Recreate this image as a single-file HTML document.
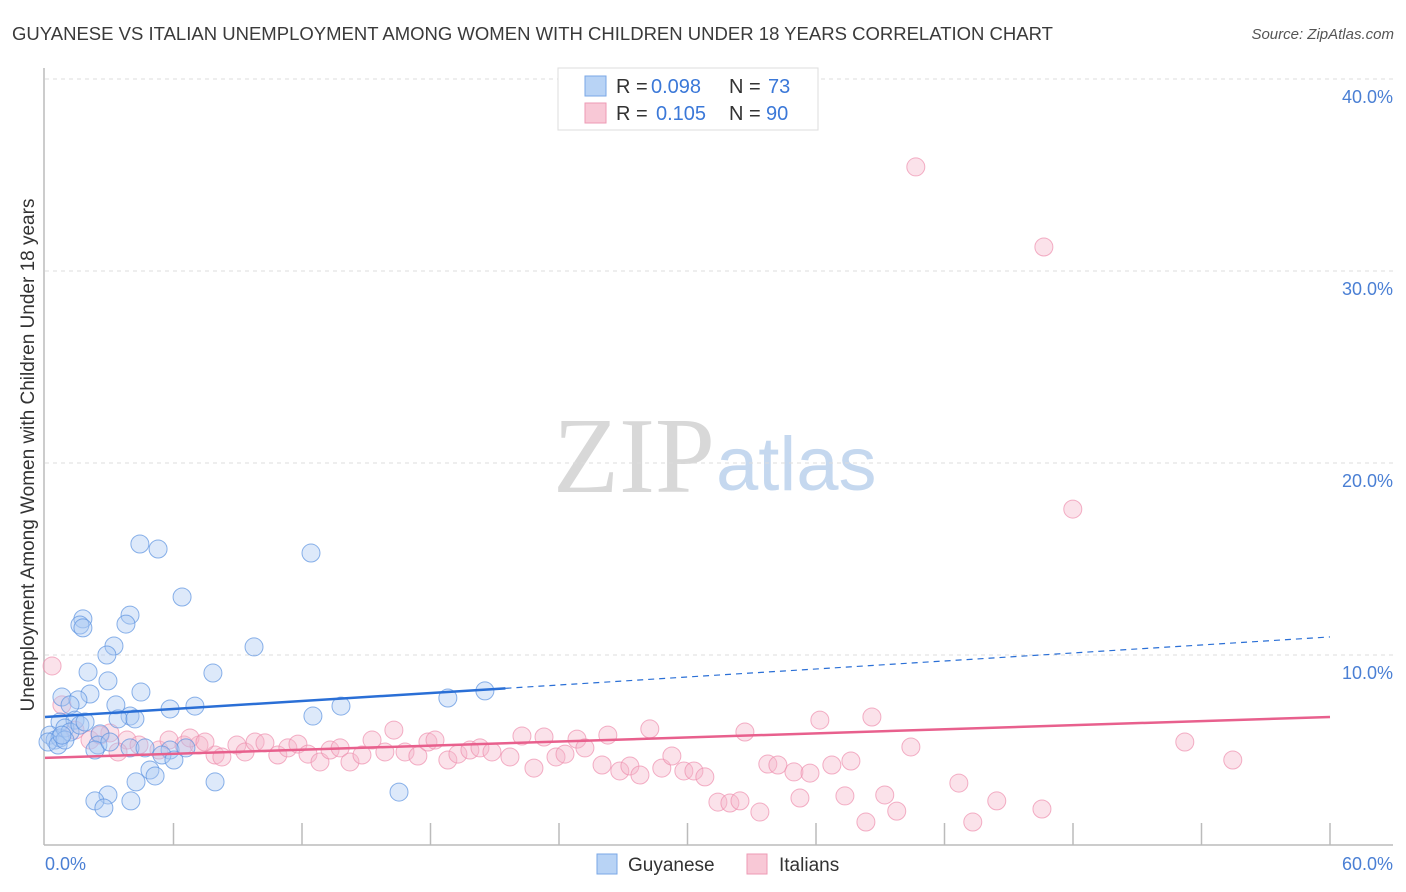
<!DOCTYPE html>
<html><head><meta charset="utf-8"><style>
body{margin:0;background:#fff;font-family:"Liberation Sans",sans-serif}
svg{display:block}
</style></head><body>
<svg width="1406" height="892">
<text x="12" y="40" font-size="18.5" fill="#3a3a3a" textLength="1041" lengthAdjust="spacingAndGlyphs">GUYANESE VS ITALIAN UNEMPLOYMENT AMONG WOMEN WITH CHILDREN UNDER 18 YEARS CORRELATION CHART</text>
<text x="1394" y="39" font-size="15" fill="#555" font-style="italic" text-anchor="end">Source: ZipAtlas.com</text>
<text x="715" y="492" font-size="108" fill="#d8d8d8" text-anchor="end" font-family="Liberation Serif,serif">ZIP</text>
<text x="716" y="490" font-size="76" fill="#c5d8ef">atlas</text>
<g id="grid"></g>
<g id="axes"></g>
<g id="pts"></g>
<g id="lines"></g>
<text transform="translate(34,455) rotate(-90)" font-size="19" fill="#333" text-anchor="middle">Unemployment Among Women with Children Under 18 years</text>
<text x="45" y="870" font-size="18" fill="#4a7fd4">0.0%</text>
<text x="1393" y="870" font-size="18" fill="#4a7fd4" text-anchor="end">60.0%</text>
<g>
<rect x="558" y="68" width="260" height="62" fill="#fff" stroke="#ddd"/>
<rect x="585" y="76" width="21" height="20" fill="#b8d3f5" stroke="#7aa7e6"/>
<rect x="585" y="103" width="21" height="20" fill="#f8c8d6" stroke="#ee9ab4"/>
<text x="616" y="93" font-size="20" fill="#333">R = <tspan fill="#3b78d8" x="651">0.098</tspan><tspan x="729">N = </tspan><tspan fill="#3b78d8" x="768">73</tspan></text>
<text x="616" y="120" font-size="20" fill="#333">R = <tspan fill="#3b78d8" x="656">0.105</tspan><tspan x="729">N = </tspan><tspan fill="#3b78d8" x="766">90</tspan></text>
</g>
<g>
<rect x="597" y="854" width="20" height="20" fill="#b8d3f5" stroke="#7aa7e6"/>
<text x="628" y="871" font-size="19" fill="#333">Guyanese</text>
<rect x="747" y="854" width="20" height="20" fill="#f8c8d6" stroke="#ee9ab4"/>
<text x="779" y="871" font-size="19" fill="#333">Italians</text>
</g>
</svg>
<script>
const yTicks=[10,20,30,40];
const yTickLabels=["10.0%","20.0%","30.0%","40.0%"];
const xTicks=[6,12,18,24,30,36,42,48,54,60];
const blueX=[4.43,5.28,12.42,6.40,3.97,1.77,1.63,1.77,3.78,3.22,2.89,9.76,2.01,7.84,2.94,0.79,4.48,2.10,1.54,3.31,1.17,3.97,3.41,4.20,5.84,7.00,13.82,12.51,18.81,20.54,0.70,1.40,0.23,0.47,0.70,0.14,0.93,1.17,2.57,2.47,2.33,3.97,4.67,5.84,5.46,6.02,6.58,4.90,5.14,4.25,7.94,2.94,2.33,2.75,4.01,16.53,0.61,0.93,1.63,1.87,0.79,3.03];
const blueY=[15.78,15.52,15.31,13.02,12.08,11.88,11.56,11.41,11.61,10.47,10.0,10.42,9.11,9.06,8.65,7.81,8.07,7.97,7.66,7.40,7.40,6.82,6.67,6.67,7.19,7.34,7.34,6.82,7.76,8.13,6.51,6.61,5.83,5.57,5.68,5.47,6.20,5.99,5.89,5.31,5.05,5.16,5.16,5.05,4.79,4.53,5.16,4.01,3.70,3.39,3.39,2.71,2.40,2.03,2.40,2.86,5.31,5.57,6.35,6.51,5.83,5.47];
const pinkX=[0.33,40.66,46.64,47.99,0.79,1.40,2.10,3.03,3.83,4.39,5.32,5.79,6.49,7.19,7.94,8.26,8.96,9.34,9.81,10.27,10.87,11.34,11.81,12.28,12.84,13.31,13.78,14.24,14.80,15.27,15.87,16.29,16.81,17.41,17.88,18.21,18.81,19.28,19.84,20.31,20.87,21.71,22.27,22.83,23.30,23.86,24.28,24.84,25.21,26.01,26.28,26.84,27.31,27.78,28.24,28.80,29.27,29.83,30.30,30.81,31.42,31.98,32.45,32.68,33.38,33.75,34.22,34.97,35.25,35.72,36.18,36.74,37.35,37.63,38.33,38.61,39.21,39.77,40.43,42.67,43.32,44.44,46.55,53.22,55.46,6.77,7.47,2.57,3.41];
const pinkY=[9.43,35.42,31.25,17.60,7.40,6.09,5.57,5.94,5.57,5.31,5.05,5.57,5.31,5.31,4.79,4.69,5.31,4.95,5.47,5.42,4.79,5.16,5.36,4.84,4.43,5.05,5.16,4.43,4.79,5.57,4.95,6.09,4.95,4.74,5.47,5.57,4.53,4.84,5.05,5.16,4.95,4.69,5.78,4.11,5.73,4.69,4.84,5.62,5.16,4.27,5.83,3.96,4.22,3.75,6.15,4.11,4.74,3.96,3.96,3.65,2.34,2.29,2.40,5.99,1.82,4.32,4.27,3.91,2.55,3.85,6.61,4.27,2.66,4.48,1.30,6.77,2.71,1.87,5.21,3.33,1.30,2.40,1.98,5.47,4.53,5.68,5.47,5.83,4.95];
const blueFit=[6.77,10.94];
const pinkFit=[4.64,6.77];
const NS="http://www.w3.org/2000/svg";
const X=v=>45+v/60*1285, Y=v=>847-v*19.2;
function mk(t,a,p){const e=document.createElementNS(NS,t);for(const k in a)e.setAttribute(k,a[k]);p.appendChild(e);return e;}
const grid=document.getElementById('grid'),axes=document.getElementById('axes'),pts=document.getElementById('pts'),lines=document.getElementById('lines');
yTicks.forEach((v,i)=>{
 const l=mk('line',{x1:45,x2:1393,y1:Y(v),y2:Y(v),stroke:'#ddd','stroke-dasharray':'4,4'},grid);
 
 
 const t=mk('text',{x:1393,y:Y(v)+24,'font-size':18,fill:'#4a7fd4','text-anchor':'end'},grid);
 t.textContent=yTickLabels[i];
 
 
});
const tl=mk('line',{x1:45,x2:1393,y1:79,y2:79,stroke:'#ddd','stroke-dasharray':'4,4'},grid);


const ya=mk('line',{x1:44,x2:44,y1:68,y2:845,stroke:'#bbb','stroke-width':1.5},axes);


const xa=mk('line',{x1:44,x2:1393,y1:845,y2:845,stroke:'#bbb','stroke-width':1.5},axes);


xTicks.forEach(v=>{
 const t=mk('line',{x1:X(v),x2:X(v),y1:823,y2:845,stroke:'#bbb','stroke-width':1.5},axes);
 
 
});
function dots(xs,ys,fill,stroke,name){xs.forEach((x,i)=>{
 const c=mk('circle',{cx:X(x),cy:Y(ys[i]),r:9,fill:fill,'fill-opacity':0.4,stroke:stroke,'stroke-opacity':0.7,'stroke-width':1},pts);
 
 
});}
dots(pinkX,pinkY,'#f6b6ca','#ee8fae','point-italians');
dots(blueX,blueY,'#a9c9f2','#5a92e0','point-guyanese');
const f=(fit,x)=>fit[0]+(fit[1]-fit[0])*x/60;
const b1=mk('line',{x1:X(0),y1:Y(f(blueFit,0)),x2:X(21.5),y2:Y(f(blueFit,21.5)),stroke:'#2a6fd6','stroke-width':2.5},lines);


const b2=mk('line',{x1:X(21.5),y1:Y(f(blueFit,21.5)),x2:X(60),y2:Y(f(blueFit,60)),stroke:'#2a6fd6','stroke-width':1.2,'stroke-dasharray':'6,5'},lines);


const p1=mk('line',{x1:X(0),y1:Y(f(pinkFit,0)),x2:X(60),y2:Y(f(pinkFit,60)),stroke:'#e8608d','stroke-width':2.5},lines);


</script>
</body></html>
